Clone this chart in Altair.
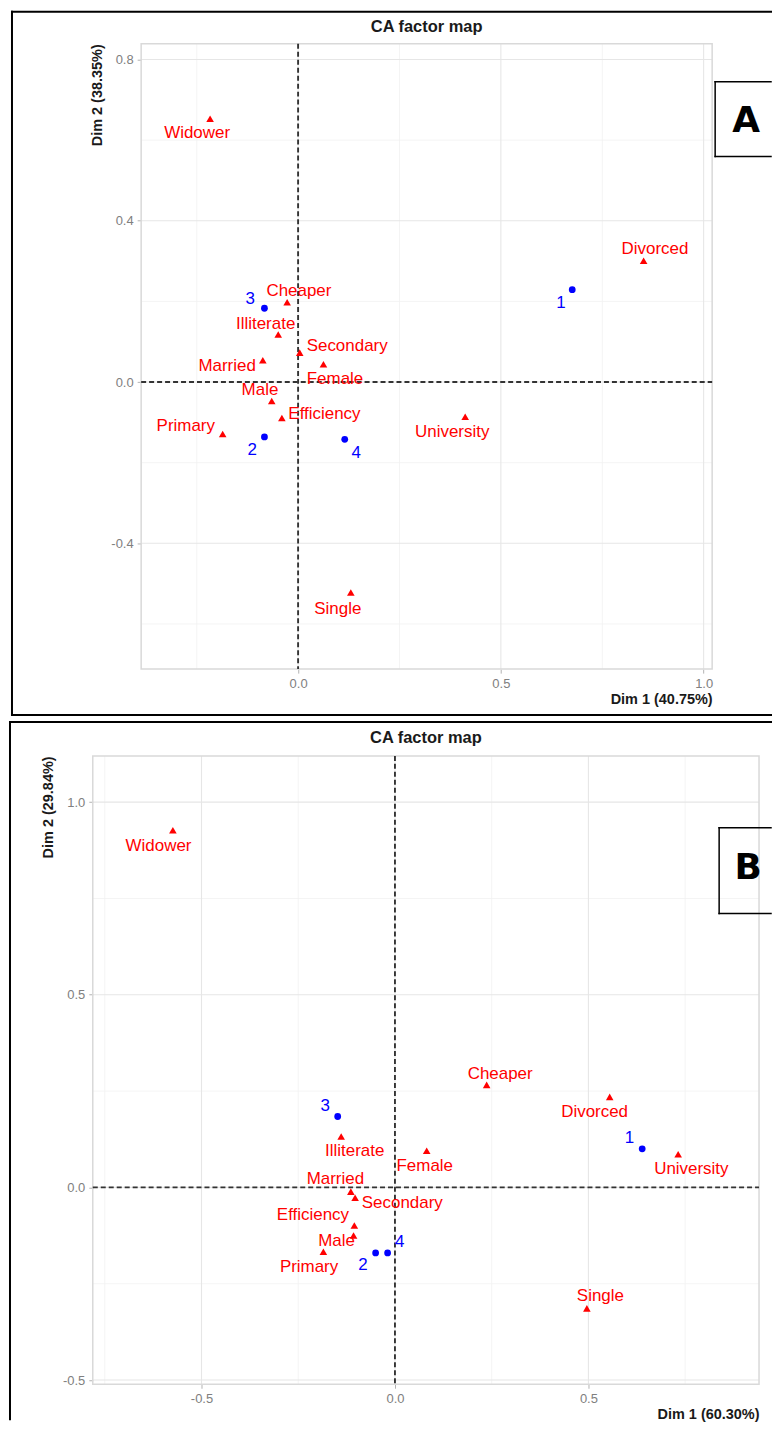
import altair as alt
import pandas as pd

# ---------------- data ----------------
CATS = ["Widower", "Divorced", "Cheaper", "Illiterate", "Secondary", "Female",
        "Married", "Male", "Efficiency", "Primary", "University", "Single"]
ROWS = ["1", "2", "3", "4"]

# Panel A
A_COL_X = [-0.217, 0.852, -0.027, -0.049, 0.004, 0.0625, -0.087, -0.065, -0.040, -0.186, 0.412, 0.130]
A_COL_Y = [0.653, 0.301, 0.198, 0.118, 0.073, 0.044, 0.054, -0.047, -0.089, -0.129, -0.086, -0.522]
A_COL_LX = [-0.249, 0.880, 0.002, -0.080, 0.121, 0.091, -0.175, -0.094, 0.065, -0.277, 0.380, 0.098]
A_COL_LY = [0.617, 0.330, 0.226, 0.145, 0.089, 0.007, 0.040, -0.019, -0.079, -0.110, -0.123, -0.563]
A_ROW_X = [0.676, -0.083, -0.083, 0.115]
A_ROW_Y = [0.229, -0.136, 0.183, -0.142]
A_ROW_LX = [0.648, -0.113, -0.118, 0.143]
A_ROW_LY = [0.197, -0.169, 0.205, -0.176]
A_XDOM = [-0.387, 1.021]
A_YDOM = [-0.712, 0.839]
A_XTICKS = [0.0, 0.5, 1.0]
A_YTICKS = [-0.4, 0.0, 0.4, 0.8]
A_XMINOR = [-0.25, 0.25, 0.75]
A_YMINOR = [-0.6, -0.2, 0.2, 0.6]
A_XTITLE = "Dim 1 (40.75%)"
A_YTITLE = "Dim 2 (38.35%)"

# Panel B
B_COL_X = [-0.574, 0.555, 0.237, -0.139, -0.103, 0.082, -0.114, -0.107, -0.105, -0.185, 0.732, 0.496]
B_COL_Y = [0.927, 0.235, 0.266, 0.132, -0.027, 0.095, -0.011, -0.125, -0.099, -0.167, 0.086, -0.314]
B_COL_LX = [-0.611, 0.516, 0.272, -0.104, 0.019, 0.077, -0.154, -0.151, -0.212, -0.222, 0.766, 0.531]
B_COL_LY = [0.887, 0.196, 0.295, 0.094, -0.041, 0.055, 0.021, -0.139, -0.071, -0.206, 0.047, -0.282]
B_ROW_X = [0.639, -0.050, -0.148, -0.019]
B_ROW_Y = [0.100, -0.170, 0.184, -0.170]
B_ROW_LX = [0.606, -0.083, -0.180, 0.012]
B_ROW_LY = [0.127, -0.202, 0.212, -0.143]
B_XDOM = [-0.781, 0.941]
B_YDOM = [-0.511, 1.120]
B_XTICKS = [-0.5, 0.0, 0.5]
B_YTICKS = [-0.5, 0.0, 0.5, 1.0]
B_XMINOR = [-0.75, -0.25, 0.25, 0.75]
B_YMINOR = [-0.25, 0.25, 0.75]
B_XTITLE = "Dim 1 (60.30%)"
B_YTITLE = "Dim 2 (29.84%)"

TITLE = "CA factor map"

# ---------------- styles ----------------
FONT = "Liberation Sans"
RED = "#FF0000"
BLUE = "#0000FF"
LABEL_EXPR = "replace(format(datum.value, '.1f'), '\u2212', '-')"
RIGHT_EDGE = 680


def panel(col_x, col_y, col_lx, col_ly, row_x, row_y, row_lx, row_ly,
          xdom, ydom, xticks, yticks, xminor, yminor, xtitle, ytitle,
          W, H, X0, title_pos, border, box, letter, letter_pos, bottom_border):
    xaxis = alt.Axis(values=xticks, labelExpr=LABEL_EXPR, grid=False, domain=False,
                     tickColor="#b3b3b3", tickSize=4, tickWidth=1, labelPadding=4,
                     labelColor="#808080", labelFontSize=13, labelFont=FONT,
                     labelFlush=False, labelOverlap=False,
                     title=xtitle, titleX=W, titleY=30, titleAlign="right",
                     titleBaseline="middle", titleFont=FONT, titleFontSize=14.5,
                     titleFontWeight="bold", titleColor="#1a1a1a")
    yaxis = alt.Axis(values=yticks, labelExpr=LABEL_EXPR, grid=False, domain=False,
                     tickColor="#b3b3b3", tickSize=4, tickWidth=1, labelPadding=4,
                     labelColor="#808080", labelFontSize=13, labelFont=FONT,
                     labelFlush=False, labelOverlap=False, offset=-X0,
                     title=ytitle, titleX=-44, titleY=0, titleAlign="right",
                     titleAngle=270, titleBaseline="middle", titleFont=FONT,
                     titleFontSize=14.5, titleFontWeight="bold", titleColor="#1a1a1a")
    xs = alt.Scale(domain=xdom, range=[X0, W], nice=False, zero=False)
    ys = alt.Scale(domain=ydom, nice=False, zero=False)

    def X(f):
        return alt.X(f + ":Q", scale=xs, axis=xaxis)

    def Y(f):
        return alt.Y(f + ":Q", scale=ys, axis=yaxis)

    one = pd.DataFrame({"a": [0]})
    layers = []

    # grid lines
    xmaj = pd.DataFrame({"x": xticks})
    xmin_ = pd.DataFrame({"x": xminor})
    ymaj = pd.DataFrame({"y": yticks})
    ymin_ = pd.DataFrame({"y": yminor})
    layers.append(alt.Chart(xmin_).mark_rule(color="#f1f1f1", strokeWidth=0.8).encode(
        x=X("x"), y=alt.value(0), y2=alt.value(H)))
    layers.append(alt.Chart(ymin_).mark_rule(color="#f1f1f1", strokeWidth=0.8).encode(
        y=Y("y"), x=alt.value(X0), x2=alt.value(W)))
    layers.append(alt.Chart(xmaj).mark_rule(color="#e6e6e6", strokeWidth=1.1).encode(
        x=X("x"), y=alt.value(0), y2=alt.value(H)))
    layers.append(alt.Chart(ymaj).mark_rule(color="#e6e6e6", strokeWidth=1.1).encode(
        y=Y("y"), x=alt.value(X0), x2=alt.value(W)))
    # panel border
    layers.append(alt.Chart(one).mark_rect(fillOpacity=0, stroke="#d9d9d9", strokeWidth=1.5).encode(
        x=alt.value(X0), x2=alt.value(W), y=alt.value(0), y2=alt.value(H)))
    # dashed zero lines
    layers.append(alt.Chart(pd.DataFrame({"x": [0.0]})).mark_rule(
        color="#333333", strokeWidth=1.9, strokeDash=[5, 3]).encode(
        x=X("x"), y=alt.value(0), y2=alt.value(H)))
    layers.append(alt.Chart(pd.DataFrame({"y": [0.0]})).mark_rule(
        color="#333333", strokeWidth=1.9, strokeDash=[5, 3]).encode(
        y=Y("y"), x=alt.value(X0), x2=alt.value(W)))

    cols = pd.DataFrame({"label": CATS, "x": col_x, "y": col_y, "lx": col_lx, "ly": col_ly})
    rows = pd.DataFrame({"label": ROWS, "x": row_x, "y": row_y, "lx": row_lx, "ly": row_ly})

    layers.append(alt.Chart(cols).mark_point(shape="triangle-up", filled=True, size=58,
                                             color=RED, opacity=1).encode(x=X("x"), y=Y("y")))
    layers.append(alt.Chart(rows).mark_circle(size=46, color=BLUE, opacity=1).encode(
        x=X("x"), y=Y("y")))
    layers.append(alt.Chart(cols).mark_text(font=FONT, fontSize=17, color=RED,
                                            align="center", baseline="middle").encode(
        x=X("lx"), y=Y("ly"), text="label:N"))
    layers.append(alt.Chart(rows).mark_text(font=FONT, fontSize=17, color=BLUE,
                                            align="center", baseline="middle").encode(
        x=X("lx"), y=Y("ly"), text="label:N"))

    # title
    layers.append(alt.Chart(pd.DataFrame({"t": [TITLE]})).mark_text(
        font=FONT, fontSize=16.5, fontWeight="bold", color="#1a1a1a",
        align="center", baseline="middle").encode(
        x=alt.value(title_pos[0]), y=alt.value(title_pos[1]), text="t:N"))

    # outer black border
    bl, bt, bb = border
    encs = [dict(x=alt.value(bl), y=alt.value(bt), y2=alt.value(bb)),
            dict(y=alt.value(bt), x=alt.value(bl), x2=alt.value(RIGHT_EDGE))]
    if bottom_border:
        encs.append(dict(y=alt.value(bb), x=alt.value(bl), x2=alt.value(RIGHT_EDGE)))
    for enc in encs:
        layers.append(alt.Chart(one).mark_rule(color="black", strokeWidth=2,
                                               strokeCap="square").encode(**enc))
    # letter box
    kl, kt, kb = box
    for enc in (dict(x=alt.value(kl), y=alt.value(kt), y2=alt.value(kb)),
                dict(y=alt.value(kt), x=alt.value(kl), x2=alt.value(RIGHT_EDGE)),
                dict(y=alt.value(kb), x=alt.value(kl), x2=alt.value(RIGHT_EDGE))):
        layers.append(alt.Chart(one).mark_rule(color="black", strokeWidth=1.5,
                                               strokeCap="square").encode(**enc))
    layers.append(alt.Chart(pd.DataFrame({"t": [letter]})).mark_text(
        font="DejaVu Sans", fontSize=36, fontWeight="bold", color="black",
        align="center", baseline="middle").encode(
        x=alt.value(letter_pos[0]), y=alt.value(letter_pos[1]), text="t:N"))

    return alt.layer(*layers).properties(width=W, height=H)


W_A, H_A, X0_A = 621, 627, 48.5
W_B, H_B, X0_B = 668, 630, 0

chartA = panel(A_COL_X, A_COL_Y, A_COL_LX, A_COL_LY, A_ROW_X, A_ROW_Y, A_ROW_LX, A_ROW_LY,
               A_XDOM, A_YDOM, A_XTICKS, A_YTICKS, A_XMINOR, A_YMINOR, A_XTITLE, A_YTITLE,
               W_A, H_A, X0_A, (334.75, -17), (-81, -32, 673), (624, 38, 113), "A", (655, 77),
               True)

chartB = panel(B_COL_X, B_COL_Y, B_COL_LX, B_COL_LY, B_ROW_X, B_ROW_Y, B_ROW_LX, B_ROW_LY,
               B_XDOM, B_YDOM, B_XTICKS, B_YTICKS, B_XMINOR, B_YMINOR, B_XTITLE, B_YTITLE,
               W_B, H_B, X0_B, (334, -17.5), (-83, -34, 665), (628, 72, 158), "B", (657, 112),
               False)

chart = alt.vconcat(chartA, chartB, spacing=87, bounds="flush").properties(
    padding=0
).configure_view(strokeWidth=0)

chart.save("out.html", embed_options={"renderer": "svg", "actions": False})
